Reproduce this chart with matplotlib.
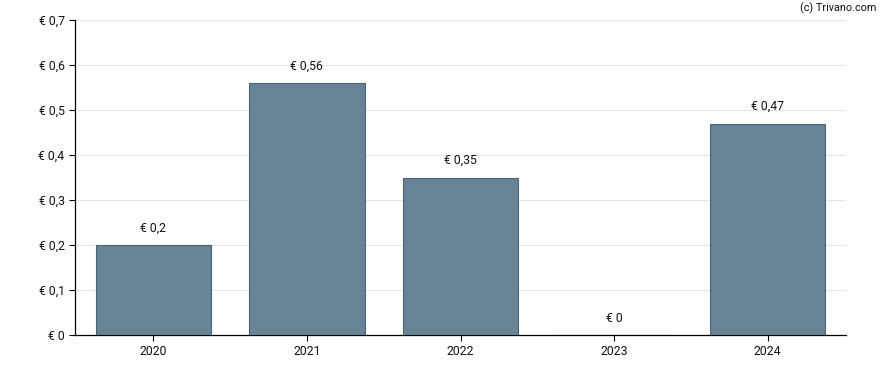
import matplotlib
matplotlib.use("Agg")
import matplotlib.pyplot as plt

years = ["2020", "2021", "2022", "2023", "2024"]
values = [0.2, 0.56, 0.35, 0.0, 0.47]
labels = ["€ 0,2", "€ 0,56", "€ 0,35", "€ 0", "€ 0,47"]
yticks = [0, 0.1, 0.2, 0.3, 0.4, 0.5, 0.6, 0.7]
ytick_labels = ["€ 0", "€ 0,1", "€ 0,2", "€ 0,3", "€ 0,4", "€ 0,5", "€ 0,6", "€ 0,7"]

plt.rcParams['font.family'] = ['Roboto', 'DejaVu Sans']
fig = plt.figure(figsize=(8.88, 3.70), dpi=100)
ax = fig.add_axes([75/888, 35/370, (846-75)/888, (335-20)/370])

x = list(range(len(years)))
ax.bar(x, values, width=0.75, color="#678395", edgecolor="#4a6375", linewidth=0.8, zorder=3)
for xi, v, lab in zip(x, values, labels):
    ax.annotate(lab, (xi, v), xytext=(0, 7.5), textcoords="offset points",
                ha="center", va="bottom", fontsize=8.8, color="#111111")

ax.set_xlim(-0.51, 4.51)
ax.set_ylim(0, 0.7)
ax.set_xticks(x)
ax.set_xticklabels(years)
ax.set_yticks(yticks)
ax.set_yticklabels(ytick_labels)
ax.tick_params(axis='both', labelsize=8.8, length=4, width=0.8, color="#000000", labelcolor="#111111")
ax.yaxis.grid(True, color="#e6e6e6", linewidth=0.8, zorder=0)
ax.set_axisbelow(True)
for s in ["top", "right"]:
    ax.spines[s].set_visible(False)
for s in ["left", "bottom"]:
    ax.spines[s].set_linewidth(0.9)

fig.text(876/888, 1 - 8/370, "(c) Trivano.com", ha="right", va="center", fontsize=7.8, color="#111111")

fig.savefig("out.png", dpi=100)
